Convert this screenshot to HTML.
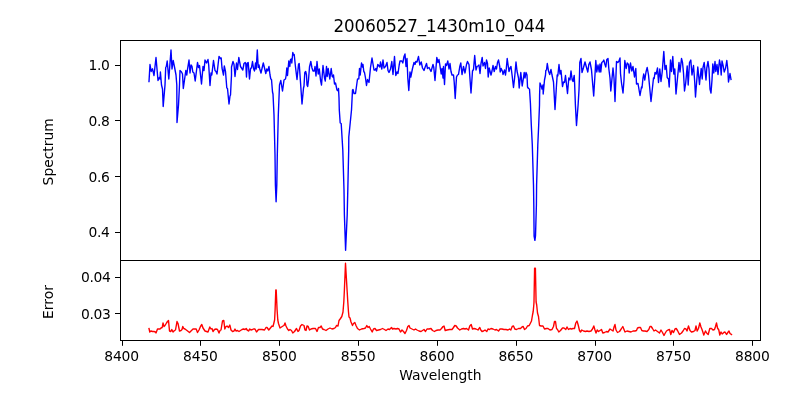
<!DOCTYPE html>
<html lang="en"><head><meta charset="utf-8"><title>20060527_1430m10_044</title>
<style>
html,body{margin:0;padding:0;background:#fff;}
body{width:800px;height:400px;overflow:hidden;}
svg{display:block;}
text{font-family:'DejaVu Sans','Liberation Sans',sans-serif;fill:#000;}
.t10{font-size:13.89px;}
.t12{font-size:16.67px;}
</style></head><body>
<svg width="800" height="400" viewBox="0 0 800 400">
<rect x="0" y="0" width="800" height="400" fill="#fff"/>
<defs><clipPath id="c1"><rect x="120.5" y="40.5" width="640" height="220"/></clipPath><clipPath id="c2"><rect x="120.5" y="260.5" width="640" height="80"/></clipPath></defs>
<polyline clip-path="url(#c1)" fill="none" stroke="#0000ff" stroke-width="1.39" stroke-linejoin="round" stroke-linecap="square" points="149.0,81.5 150.0,64.5 151.2,71.5 152.5,68.8 154.0,75.5 156.0,57.5 158.0,80.5 159.3,77.5 160.0,79.0 160.4,72.0 161.5,85.0 162.5,89.0 163.2,106.5 165.0,85.0 165.7,67.5 166.3,66.5 167.2,61.0 168.8,79.0 171.0,50.0 172.0,69.0 173.2,60.5 174.5,67.0 176.0,75.0 176.8,85.0 177.0,122.5 178.5,105.0 179.5,85.0 180.0,70.5 181.5,72.0 182.5,74.0 183.3,88.5 184.5,80.0 185.8,70.5 186.8,75.0 187.4,70.0 189.0,60.0 190.0,73.0 191.0,65.0 192.0,66.5 192.8,72.0 194.0,73.0 195.2,81.0 197.5,62.5 198.5,67.5 199.5,65.5 201.5,84.0 203.0,66.5 204.0,70.5 205.0,60.0 206.5,63.0 208.0,59.5 208.7,65.0 210.0,85.5 211.0,73.0 211.8,75.0 213.5,60.5 215.0,70.5 216.0,71.5 217.0,74.0 219.0,56.5 220.5,58.5 221.2,58.0 222.0,68.0 223.5,75.0 224.3,66.0 225.5,71.5 226.8,88.0 227.5,88.5 229.0,104.0 230.0,96.0 230.5,95.0 231.5,75.0 231.5,67.0 233.0,61.5 234.0,64.5 235.0,76.5 236.5,63.0 237.5,69.5 238.8,57.5 240.5,66.5 241.5,68.0 242.8,70.0 244.0,63.5 245.2,62.5 245.8,64.0 246.5,77.0 247.2,63.0 248.2,62.5 249.5,79.0 250.5,69.0 251.5,67.5 252.5,61.5 253.5,68.5 254.5,71.0 255.5,63.0 256.2,69.0 257.3,50.0 258.2,67.5 259.0,65.0 259.8,69.0 261.0,73.0 262.0,68.5 263.3,63.0 264.5,68.0 265.8,73.5 266.8,69.0 267.8,71.0 269.0,66.5 270.0,75.0 270.8,79.0 271.5,79.5 272.5,92.0 273.0,94.0 274.0,115.0 275.0,155.0 275.4,185.0 276.1,201.8 276.8,185.0 277.3,155.0 278.3,115.0 279.5,85.0 280.8,80.5 282.5,91.0 284.0,80.0 285.5,79.0 286.2,75.0 286.8,68.0 287.5,75.5 288.8,61.0 289.8,66.5 290.5,59.5 291.2,59.0 291.8,63.0 292.8,52.5 293.5,55.0 294.2,54.5 295.5,67.0 297.0,79.5 298.5,64.5 299.2,63.5 300.0,75.0 302.0,104.0 303.5,88.0 304.0,86.0 304.8,72.5 305.7,71.5 306.5,75.0 307.0,85.0 307.7,86.5 308.5,80.0 309.5,67.0 310.8,61.5 312.0,68.0 313.0,71.0 314.2,71.0 315.0,66.5 316.0,76.0 317.0,61.5 318.2,74.0 319.3,69.0 320.5,80.0 321.5,85.0 323.0,65.5 324.5,78.0 325.3,81.0 326.5,66.5 327.2,76.5 328.2,68.5 329.8,79.0 331.2,68.5 332.2,76.5 332.8,77.0 333.5,75.0 334.5,84.0 335.5,83.0 337.0,90.0 338.2,91.0 338.5,88.5 339.0,98.0 339.3,110.0 340.2,123.0 341.2,123.5 342.8,150.0 344.0,190.0 344.4,215.0 345.6,250.3 347.2,215.0 347.8,190.0 348.7,150.0 348.8,137.0 350.0,125.0 351.5,110.0 352.5,90.0 353.0,89.5 354.0,93.5 355.5,93.5 357.5,79.0 358.5,78.5 358.8,79.0 359.5,68.5 360.2,75.0 361.5,63.0 362.5,67.0 363.0,64.5 363.8,71.5 364.5,72.5 365.5,78.0 366.5,85.5 367.5,79.5 369.0,82.5 370.5,67.5 372.0,58.0 373.0,64.0 374.0,70.0 375.0,70.0 375.8,68.5 376.5,71.0 377.8,64.5 379.0,66.0 379.8,67.0 380.5,62.0 381.8,69.0 383.0,60.0 384.0,68.0 385.5,66.5 387.0,62.5 388.0,70.5 389.0,72.5 390.5,69.0 391.8,61.5 393.0,74.5 394.5,56.5 395.8,75.5 397.0,72.0 398.0,73.5 399.2,65.0 400.0,61.0 401.8,61.0 402.8,63.0 404.0,56.5 405.0,54.0 406.0,66.5 407.0,58.5 407.8,78.0 408.8,90.5 409.5,80.0 410.0,72.0 410.8,77.0 412.5,68.5 414.0,62.5 415.0,64.5 415.8,61.5 417.0,62.0 418.5,56.5 419.8,65.0 421.2,62.0 422.5,68.0 424.0,70.5 425.0,67.5 426.5,63.5 427.5,68.5 429.0,67.5 431.0,71.5 433.0,64.5 433.8,67.5 435.0,80.5 436.8,57.5 438.0,62.5 439.0,59.5 440.0,66.0 441.2,74.0 442.0,68.5 443.0,78.0 443.5,66.5 444.5,84.5 445.5,64.0 446.5,65.5 447.8,61.0 449.0,69.0 450.0,63.5 451.0,71.5 452.0,75.0 453.5,75.0 454.2,82.0 455.2,98.5 456.5,77.0 457.5,75.0 458.5,74.5 459.8,66.5 460.8,63.0 462.0,74.5 463.5,66.5 465.0,73.0 466.5,64.5 467.5,61.5 469.0,64.5 470.0,79.0 471.0,93.0 472.5,71.0 473.5,69.5 474.7,55.5 476.0,70.0 477.0,66.5 478.0,66.0 479.0,65.0 480.0,73.5 481.0,63.5 482.2,57.5 483.0,66.0 484.5,62.5 485.5,68.5 486.5,60.0 487.5,63.5 488.2,77.0 489.2,68.0 491.0,75.0 492.0,71.0 493.0,65.5 494.2,71.5 495.5,66.5 496.5,69.0 497.5,62.5 498.5,60.0 499.8,67.0 500.2,72.0 501.2,68.5 502.5,71.5 503.0,74.5 504.5,70.0 505.5,75.0 506.2,69.5 507.2,58.5 509.0,71.5 510.0,68.0 511.0,66.5 512.2,76.0 513.5,87.5 514.5,79.0 516.0,62.0 517.0,71.0 518.5,78.0 519.2,88.0 520.8,72.5 522.2,86.0 523.0,81.0 524.2,72.5 525.0,78.0 526.0,72.5 527.0,75.0 527.5,87.0 528.5,88.5 529.5,89.0 530.4,103.0 531.3,125.0 532.3,145.0 533.5,185.0 533.8,205.0 534.1,236.0 534.9,240.3 535.5,236.0 536.4,205.0 536.6,185.0 537.8,145.0 538.7,125.0 539.5,105.0 539.6,95.0 540.0,83.0 541.2,86.0 542.0,89.0 543.0,85.0 543.2,94.0 544.5,80.0 545.5,75.0 545.8,70.5 546.5,70.0 547.3,63.5 548.5,71.0 549.7,74.5 551.0,69.5 552.0,75.0 553.5,82.0 555.0,109.5 556.5,85.0 557.2,75.0 557.8,76.0 559.0,64.5 560.0,74.0 561.0,70.5 561.8,79.0 562.5,86.5 563.5,82.0 564.5,82.5 565.5,75.5 567.5,93.5 568.8,78.0 570.0,80.0 571.0,71.0 572.2,80.0 573.0,81.5 574.2,75.5 574.6,83.0 575.4,105.0 576.5,125.5 578.1,105.0 579.0,90.0 579.5,75.0 579.8,62.5 581.0,58.5 582.0,72.5 583.5,67.5 585.0,62.0 586.5,67.5 587.8,72.0 588.8,64.5 590.0,62.0 591.5,70.0 593.7,96.0 594.8,78.0 595.8,60.5 596.8,72.0 598.0,65.0 599.2,72.0 600.0,64.0 600.8,72.0 601.8,62.5 603.0,61.5 603.8,60.0 604.8,64.0 605.8,67.0 606.8,59.5 608.0,58.5 608.8,68.5 610.0,78.0 610.8,91.0 613.0,68.0 614.0,78.0 615.0,101.5 616.5,61.5 617.8,62.5 619.0,61.0 620.0,58.0 620.5,73.5 621.5,83.0 623.0,93.0 624.0,80.0 624.8,60.5 626.2,68.5 627.2,63.0 628.5,64.5 629.2,73.0 630.5,63.0 631.8,71.0 633.0,66.5 634.5,77.0 635.8,68.5 636.5,84.0 638.0,83.5 640.0,95.5 641.5,87.0 642.0,88.0 643.0,78.0 643.7,74.0 644.8,80.0 646.0,72.0 647.2,67.5 648.5,75.0 651.0,101.5 653.5,78.0 654.2,78.5 655.0,72.5 656.2,74.0 657.5,68.0 658.5,82.5 659.8,69.0 661.0,81.5 662.2,72.0 663.8,51.5 665.0,69.5 666.2,65.5 667.2,77.5 668.5,79.0 669.2,87.0 670.5,60.0 671.5,71.5 672.8,56.5 673.8,74.0 674.8,69.0 676.0,94.0 677.5,78.0 679.0,62.5 680.0,72.0 681.5,58.5 682.5,62.5 683.5,73.0 684.5,91.0 685.7,83.0 687.2,66.0 688.2,85.0 689.5,62.5 690.8,60.0 692.0,75.0 693.5,65.5 694.7,81.5 695.5,97.0 697.8,67.0 699.5,84.5 699.8,81.0 701.2,68.5 702.2,79.0 703.0,67.5 704.2,62.5 706.0,80.0 706.8,68.0 708.0,61.5 709.0,69.0 710.0,89.0 711.0,93.0 712.0,80.0 712.8,64.0 713.8,73.0 715.0,61.5 715.8,71.5 717.0,64.5 718.0,74.5 719.5,60.0 720.5,65.5 721.2,75.0 722.0,61.0 723.2,66.0 724.2,72.0 725.5,68.5 726.8,60.5 727.8,69.5 728.5,82.0 730.0,73.5 731.0,79.5"/>
<polyline clip-path="url(#c2)" fill="none" stroke="#ff0000" stroke-width="1.39" stroke-linejoin="round" stroke-linecap="square" points="149.0,328.5 149.8,332.0 151.0,331.0 152.5,331.5 154.0,331.5 155.5,332.0 156.0,333.0 157.5,329.0 159.0,329.0 160.0,329.0 161.0,328.0 162.2,327.5 163.0,323.0 164.0,326.5 165.0,325.5 166.5,323.0 167.5,321.5 168.5,320.5 169.5,331.0 170.8,331.5 171.8,329.5 173.0,332.0 174.5,330.5 175.5,330.0 177.0,321.5 178.0,323.5 179.5,331.0 181.0,330.5 182.0,329.5 182.8,326.5 183.8,328.5 185.0,329.0 187.0,330.5 189.5,332.5 191.0,331.0 193.0,329.0 195.0,329.0 196.2,329.0 197.5,332.5 199.0,330.0 200.5,326.5 201.8,324.5 203.0,328.0 205.0,331.0 206.5,331.5 208.0,332.0 209.8,327.0 211.0,329.0 212.0,328.5 213.0,331.5 214.5,329.5 216.0,329.0 217.5,329.5 219.0,333.0 220.0,330.5 221.0,330.0 222.5,321.0 223.8,320.5 224.8,329.0 226.0,326.5 227.0,326.0 228.5,327.5 229.8,325.0 231.0,330.0 232.5,331.5 234.0,331.0 235.0,329.0 236.0,331.0 237.5,330.5 239.0,331.5 240.5,330.5 242.0,329.5 243.5,329.0 245.0,329.5 246.2,328.5 247.5,330.5 248.5,331.0 249.8,329.0 251.0,330.0 252.5,329.5 253.5,329.0 255.0,329.0 256.5,332.0 258.5,329.5 260.0,329.5 262.0,329.5 264.5,330.0 266.0,327.5 267.0,327.5 268.8,330.0 270.0,328.5 272.0,326.0 273.0,326.5 274.0,322.5 274.6,320.0 275.1,310.0 275.8,290.0 276.2,290.0 277.1,310.0 277.8,320.0 278.5,323.5 280.0,328.0 281.5,327.0 283.0,326.0 284.0,325.5 285.0,323.0 286.0,326.0 287.5,329.0 288.8,330.5 290.0,329.5 291.5,330.5 292.8,333.0 294.5,331.5 296.5,328.5 298.0,331.5 299.0,330.5 300.5,326.0 302.0,324.5 304.0,325.5 305.0,330.0 306.0,330.5 307.0,326.0 308.2,326.5 309.5,330.0 311.0,329.0 313.0,328.5 315.5,328.5 317.0,331.5 318.5,327.5 320.0,327.5 321.2,326.0 322.5,329.0 324.0,329.5 326.0,330.5 328.0,329.0 330.0,328.0 332.0,329.0 334.0,328.5 335.5,327.5 336.5,325.5 338.0,326.0 339.0,320.5 340.5,318.5 341.8,316.5 343.0,312.0 343.8,302.0 344.3,292.0 345.5,263.2 347.2,292.0 347.8,302.0 348.5,312.0 349.0,317.0 350.0,318.0 351.0,322.0 352.5,325.5 353.5,323.5 354.8,322.5 356.0,325.5 357.5,328.5 359.5,330.0 361.5,329.0 364.0,328.5 365.5,328.0 366.8,325.5 368.0,327.5 369.2,326.5 370.5,329.0 372.2,332.0 373.5,329.0 375.0,328.5 376.5,330.5 378.5,330.0 380.5,329.5 382.5,328.5 384.5,329.5 386.0,330.5 388.0,329.0 389.5,329.5 391.5,327.5 392.5,329.0 394.0,328.5 396.0,329.0 397.5,328.5 399.0,329.0 400.5,332.0 402.0,330.0 403.5,331.5 405.0,333.5 406.5,330.5 407.8,326.5 409.0,325.5 410.0,328.0 412.0,329.0 414.0,330.0 415.5,329.0 417.0,330.0 419.0,331.0 421.0,331.5 422.5,330.5 424.0,329.5 425.5,331.5 427.0,329.0 429.0,329.0 431.0,328.5 432.5,330.5 434.5,331.5 436.0,330.5 438.0,330.0 440.0,330.0 441.5,328.5 443.0,326.5 444.0,326.0 445.2,330.5 447.0,330.0 449.5,329.5 452.0,329.5 453.5,327.5 454.8,325.5 456.2,326.0 457.5,328.0 459.8,330.0 461.5,329.0 463.5,328.5 465.0,329.0 466.5,328.5 468.5,330.0 469.8,326.0 471.2,324.5 472.5,329.0 474.0,328.5 476.0,329.0 478.0,330.0 479.8,327.5 480.8,330.0 482.0,331.5 483.5,331.0 485.0,330.0 486.8,331.5 488.0,329.0 489.5,329.5 491.0,328.5 493.0,329.0 495.0,330.0 496.5,329.5 498.5,331.0 500.0,329.0 502.0,329.0 504.0,329.5 506.0,329.5 508.0,330.0 509.5,329.0 510.8,330.0 512.2,326.5 513.5,326.0 514.8,329.0 516.5,329.5 518.5,328.5 520.5,328.5 522.0,327.0 523.2,326.5 524.5,329.5 526.0,328.5 527.5,326.0 529.2,325.5 530.5,323.0 531.5,321.0 532.5,315.0 533.2,311.5 533.8,305.0 534.0,302.0 534.6,268.3 535.4,268.3 536.1,302.0 536.7,305.0 537.5,313.0 538.5,316.5 539.5,325.5 541.0,326.0 543.0,326.0 544.5,329.0 546.5,328.5 548.0,328.5 550.0,330.0 552.0,329.5 553.5,326.5 554.5,321.5 555.5,321.5 556.5,328.5 557.5,329.5 558.8,332.0 560.5,330.5 562.5,328.0 564.0,328.0 565.8,329.5 567.0,327.0 568.5,329.5 570.0,328.5 571.5,329.0 573.0,328.5 574.5,328.5 575.8,323.0 577.0,321.0 578.2,325.0 579.5,330.5 580.5,332.0 581.8,330.0 583.5,331.0 585.5,331.5 587.0,331.0 589.0,331.5 591.0,331.0 592.5,329.0 593.8,326.0 595.0,330.0 596.0,333.0 597.2,330.0 598.5,331.5 600.0,330.5 601.5,329.5 602.8,333.0 604.5,332.5 606.5,331.5 608.0,332.0 610.0,329.0 611.5,330.0 613.0,331.0 614.2,326.5 615.0,324.5 616.0,330.0 617.5,332.5 619.5,331.5 621.2,329.0 622.8,326.5 624.0,329.5 625.0,332.0 627.0,331.0 629.0,331.5 631.0,332.0 633.0,331.0 635.0,331.0 636.5,330.5 637.5,328.0 639.0,327.5 640.5,327.5 641.8,330.5 643.5,331.0 645.0,331.0 647.0,331.5 648.8,329.5 650.0,326.5 651.2,326.5 652.5,328.5 654.0,331.0 655.5,330.0 657.5,331.5 659.5,333.0 661.0,330.0 662.5,332.5 664.0,335.5 665.0,333.5 666.5,331.0 668.0,330.0 669.5,329.5 670.8,334.5 672.0,330.5 673.5,332.5 675.0,329.0 676.2,328.5 677.5,330.5 679.5,334.5 681.5,333.0 683.0,331.0 684.5,328.5 686.0,329.0 687.0,331.0 688.5,326.0 690.0,330.5 691.5,332.0 693.5,331.5 695.0,330.5 696.0,326.0 697.2,331.0 698.5,328.5 699.8,323.0 701.0,327.0 702.2,330.0 703.8,335.0 705.5,331.0 707.0,333.5 708.2,334.5 709.8,328.5 711.5,328.5 713.0,330.0 714.5,329.5 715.5,326.5 716.5,323.0 717.5,328.0 718.8,330.0 719.8,335.0 721.0,332.0 722.2,334.0 723.8,332.5 725.0,332.0 726.5,334.5 727.8,332.5 729.0,331.0 730.0,333.5 731.5,334.5"/>
<g fill="#000" shape-rendering="crispEdges">
<rect x="120" y="40" width="641" height="1"/>
<rect x="120" y="260" width="641" height="1"/>
<rect x="120" y="340" width="641" height="1"/>
<rect x="120" y="40" width="1" height="301"/>
<rect x="760" y="40" width="1" height="301"/>
<rect x="122" y="341" width="1" height="4"/><rect x="122" y="345" width="1" height="1" fill="#333"/>
<rect x="200" y="341" width="1" height="4"/><rect x="200" y="345" width="1" height="1" fill="#333"/>
<rect x="279" y="341" width="1" height="4"/><rect x="279" y="345" width="1" height="1" fill="#333"/>
<rect x="358" y="341" width="1" height="4"/><rect x="358" y="345" width="1" height="1" fill="#333"/>
<rect x="437" y="341" width="1" height="4"/><rect x="437" y="345" width="1" height="1" fill="#333"/>
<rect x="516" y="341" width="1" height="4"/><rect x="516" y="345" width="1" height="1" fill="#333"/>
<rect x="595" y="341" width="1" height="4"/><rect x="595" y="345" width="1" height="1" fill="#333"/>
<rect x="673" y="341" width="1" height="4"/><rect x="673" y="345" width="1" height="1" fill="#333"/>
<rect x="752" y="341" width="1" height="4"/><rect x="752" y="345" width="1" height="1" fill="#333"/>
<rect x="115" y="65" width="5" height="1"/>
<rect x="115" y="120" width="5" height="1"/>
<rect x="115" y="176" width="5" height="1"/>
<rect x="115" y="232" width="5" height="1"/>
<rect x="115" y="277" width="5" height="1"/>
<rect x="115" y="313" width="5" height="1"/>
</g>
<text class="t10" x="121.60" y="361" text-anchor="middle" letter-spacing="-0.15">8400</text>
<text class="t10" x="200.44" y="361" text-anchor="middle" letter-spacing="-0.15">8450</text>
<text class="t10" x="279.28" y="361" text-anchor="middle" letter-spacing="-0.15">8500</text>
<text class="t10" x="358.12" y="361" text-anchor="middle" letter-spacing="-0.15">8550</text>
<text class="t10" x="436.96" y="361" text-anchor="middle" letter-spacing="-0.15">8600</text>
<text class="t10" x="515.80" y="361" text-anchor="middle" letter-spacing="-0.15">8650</text>
<text class="t10" x="594.64" y="361" text-anchor="middle" letter-spacing="-0.15">8700</text>
<text class="t10" x="673.48" y="361" text-anchor="middle" letter-spacing="-0.15">8750</text>
<text class="t10" x="752.32" y="361" text-anchor="middle" letter-spacing="-0.15">8800</text>
<text class="t10" x="109.5" y="69.6" text-anchor="end" letter-spacing="-0.35">1.0</text>
<text class="t10" x="109.5" y="125.6" text-anchor="end" letter-spacing="-0.35">0.8</text>
<text class="t10" x="109.5" y="181.6" text-anchor="end" letter-spacing="-0.35">0.6</text>
<text class="t10" x="109.5" y="236.7" text-anchor="end" letter-spacing="-0.35">0.4</text>
<text class="t10" x="110.55" y="281.7" text-anchor="end" letter-spacing="-0.35">0.04</text>
<text class="t10" x="110.55" y="318.6" text-anchor="end" letter-spacing="-0.35">0.03</text>
<text class="t12" transform="translate(439.45,31.8) scale(1,1.05)" text-anchor="middle" letter-spacing="-0.06">20060527_1430m10_044</text>
<text class="t10" x="440.4" y="379.8" text-anchor="middle">Wavelength</text>
<text class="t10" transform="translate(52.5,151.8) rotate(-90)" text-anchor="middle">Spectrum</text>
<text class="t10" transform="translate(52.5,302.0) rotate(-90)" text-anchor="middle">Error</text>
</svg>
</body></html>
